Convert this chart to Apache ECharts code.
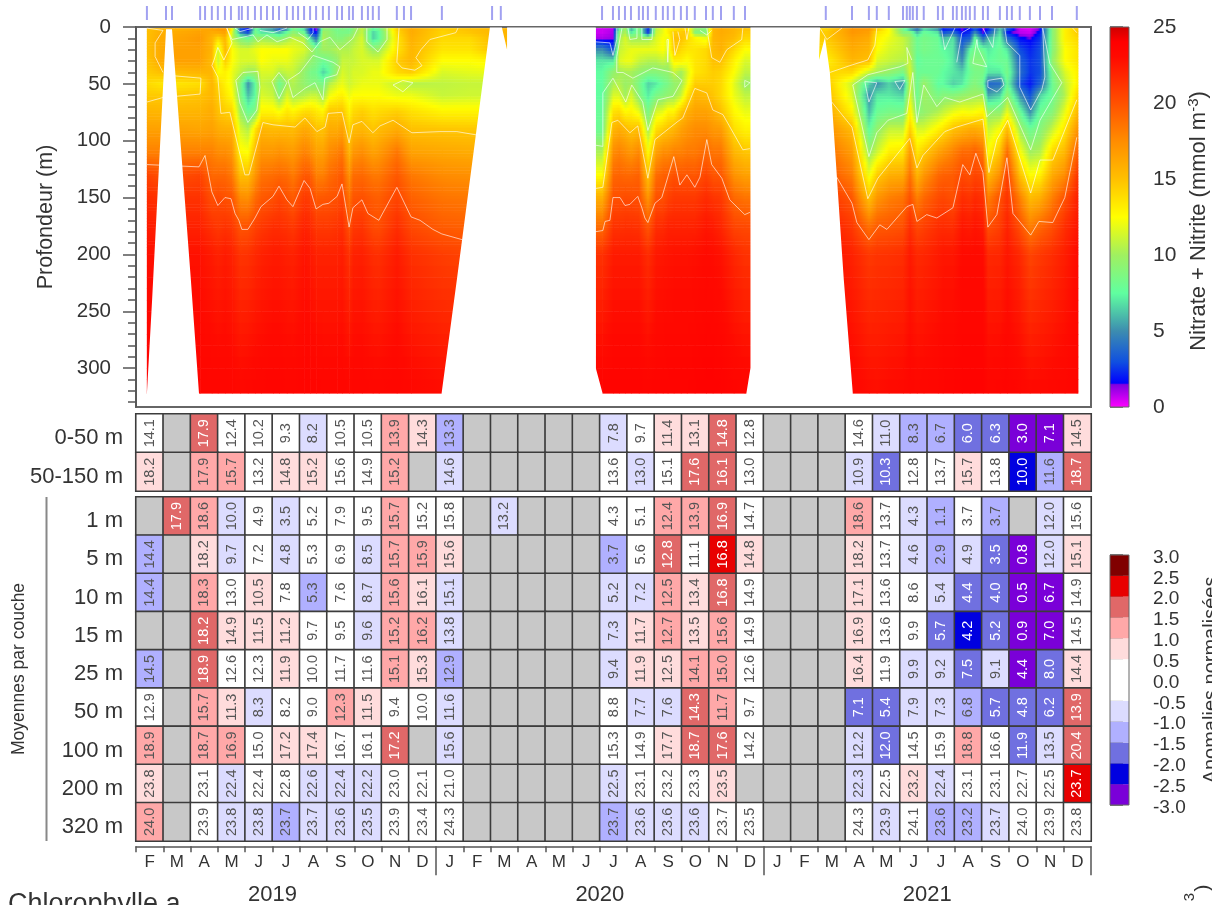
<!DOCTYPE html>
<html><head><meta charset="utf-8">
<script src="https://cdn.jsdelivr.net/npm/echarts@6/dist/echarts.min.js"></script>
<style>html,body{margin:0;padding:0;background:#fff;overflow:hidden}#main{width:1212px;height:905px;filter:blur(0.7px)}</style>
</head><body><div id="main"></div>
<script>
// ---------- time axis: months since 1 Feb 2019 ----------
const monthLetters=['F','M','A','M','J','J','A','S','O','N','D','J','F','M','A','M','J','J','A','S','O','N','D','J','F','M','A','M','J','J','A','S','O','N','D'];
const yearLabels={5:'2019',17:'2020',29:'2021'};
const yearEnds=[11,23,35];
const sampleDates=[.40,1.10,1.32,2.35,2.53,2.78,3.00,3.26,3.48,3.77,3.88,4.10,4.36,4.58,4.80,5.02,5.24,5.53,5.75,5.94,6.16,6.38,6.60,6.85,7.07,7.37,7.55,7.81,7.95,8.28,8.50,8.68,8.90,9.56,9.82,10.08,11.21,13.05,13.37,17.08,17.48,17.70,17.92,18.14,18.43,18.58,18.76,19.05,19.31,19.49,19.71,19.97,20.19,20.48,20.89,21.14,21.44,21.91,22.32,25.28,26.24,26.86,27.15,27.59,28.11,28.25,28.36,28.47,28.62,28.87,29.39,29.57,29.94,30.08,30.27,30.41,30.56,30.74,31.04,31.22,31.66,31.92,32.10,32.39,32.76,33.13,33.57,34.48];

// ---------- nitrate + nitrite section ----------
const depthLevels=[0,5,10,20,30,40,50,60,75,90,110,130,150,175,200,322];
const dates2019=[.40,.88,1.43,2.35,2.78,3.00,3.26,3.52,3.81,4.10,4.36,4.58,5.02,5.24,5.53,5.75,6.16,6.38,6.60,6.85,7.07,7.37,7.55,7.81,7.95,8.28,8.68,8.90,9.56,10.08,11.21,12.24,13.27];
const nitrate2019=[
[15,15,15,15,14.8,14.5,14,14.6,15.6,16.5,18,20.5,21.5,22.3,22.8,24],
[15.2,15.8,16,16,16,15,13.5,14.6,15.5,16.5,18,20,21.3,22,22.7,23.8],
[15.5,16,16.2,16.5,16.5,15.2,13.5,14.6,15.5,16.5,18,20,21.3,22,22.7,23.8],
[16,16.5,16.8,16.5,16.5,15.5,13.8,14.9,15.6,16.3,18,20.5,21.3,22,22.7,23.5],
[16.5,16,15.5,15.5,15.2,15.5,15.5,15.5,16,16.5,18,19,20,21.3,22.3,23.5],
[17,16,14,11,11,12.5,14,14.5,15,16,17.5,19,20.3,21,22,23.5],
[17,16.5,15.5,15.5,14.5,13,13,13.5,14.5,15.8,17.5,19,20,21.3,22.3,23.5],
[13,11.5,11,12.5,12.5,12,12,12.5,14.2,15.7,17,18.3,19.8,21,22,23.4],
[2,5,9,11.5,11.5,10.8,9,9,10,11.5,12.8,15,17.5,19.8,21.2,23.3],
[.8,3,8,11.5,11.5,9.8,5,6,8,10.5,12.5,15,17.3,19.9,21.3,23.4],
[8,8.5,9.5,12,11.5,10,7.5,7.5,8.8,13.5,15.5,17,18.8,20.6,21.7,23.5],
[6,7,10,12.5,12.5,11.5,11,11.5,13,15.5,17,18.5,19.6,21,22,23.5],
[4,7,9.5,12.5,12,11.5,10.5,11,13,15.3,17,18.8,20,21.5,22.3,23.6],
[2,6,9,12.5,12,10.5,8,9,12.5,15.3,17.3,19,20.5,21.5,22.3,23.6],
[4,8,10,12.5,12,11,10,11.5,13.5,15.3,17,18.8,20,21.3,22.1,23.5],
[8,9.5,11,12,11.5,11,10.5,10,13,15.2,16.8,18.2,19.5,21,22,23.5],
[6,8,10.5,11.5,10.5,9.5,9.5,10.5,14,16.2,18,19.7,21,22,22.6,23.6],
[2,3,7,10.5,9.5,8.5,9,11,14,15.8,17.5,19.5,20.7,21.7,22.4,23.6],
[.8,1.8,4,9,8.8,8.2,9,11,13.5,15,16.5,18,19.6,21,22,23.6],
[9,10,10.5,10,8,6.5,8.5,9.8,13,14.9,16.5,18,19.7,21,22,23.5],
[9,9.5,9.5,10,8.5,7.5,10.5,12,14.9,16,17.5,18.8,19.8,21,22,23.5],
[8,8.5,9,10.5,9.5,10,11.5,12.8,14.8,16,18,19.3,20,21.2,22,23.5],
[9,8.5,9,10.5,11,11.5,12,13,15,16.5,18.5,19.7,20.5,21.5,22.2,23.5],
[8,8.5,10,10.5,11,11,11.2,12,13,14.2,15.5,17.2,18.5,19.9,21.3,23.4],
[9,9.5,10.2,11,11,11.5,11.5,12.5,14,15.2,17,18.8,19.8,21,22,23.5],
[11,11,11.5,11.5,11.5,11.5,12,12.5,14.5,15.5,17.5,19,20,21.2,22.1,23.5],
[8,6.5,6.5,9.8,11.5,12,12,12.5,13.8,14.8,16.5,18.3,19.5,20.2,21.5,23.4],
[8.5,7.5,7.5,10,11.5,12,12,12.5,14,15.2,16.8,18.3,19.4,20.1,21.4,23.4],
[14.5,14,13.5,13.5,14.5,14,11,12,14.5,16,18.5,19.7,20.5,21.5,22.3,23.5],
[16,16,15.8,15.5,15.5,14.5,10.5,12,13.8,15,16.5,18.3,19.3,20.3,21.4,23.3],
[14.5,14.2,14,13.5,12.5,11.5,10.8,11,13,14.8,16.2,17.5,18.5,19.5,20.8,23],
[15,14.8,14,13.5,12.5,11.8,11,11.2,13,14.7,16,17.3,18.3,19.3,20.5,23],
[15.5,15.5,15.5,15.2,13,12,11,11.2,13,14.7,16,17.3,18.3,19.3,20.5,23]];
const dates2020=[17.08,17.48,17.70,17.92,18.14,18.43,18.76,19.05,19.31,19.49,19.71,19.97,20.19,20.48,20.89,21.14,21.44,21.91,22.31];
const nitrate2020=[
[.6,.6,1,5,7,7.5,7.5,7.5,7.8,8,10.3,12.5,15.8,18.8,21.3,23.7],
[.8,1,1.2,3,7,9.5,10.3,11.5,13.7,15.5,17.5,19,20,21.3,22.3,23.7],
[7,9,10,11,11.5,10,10.5,11.5,14,16,18,19.2,20,21.3,22.3,23.7],
[10,10.5,11.5,11.5,12,10.2,9.8,9.9,12.8,15.5,17.5,19,20.2,21.4,22.3,23.7],
[5,7,10,12,12,10.2,10,11.5,13,14.8,17,19,20.1,21.4,22.3,23.7],
[9,9,10,12,11,9.5,8.5,9,12,15.2,17.8,19.3,20,21.3,22.3,23.7],
[2,2.5,10,12,10.5,9,6.5,7,8.5,10,12.5,14.8,17,19.7,21.5,23.6],
[10.5,11,11.5,12,10.5,9,7,8.5,11.5,13.8,16.5,18.8,20,21.5,22.4,23.7],
[12,12,12.5,12.5,11,9.3,8,9,12,14.5,17.5,19.3,20,21.6,22.5,23.7],
[13,13,12,11.5,10.5,9.5,8.5,9.5,13,15,17.5,19.5,20.6,22,22.6,23.7],
[13,14.5,15,14.8,13,11,9.5,9.7,13,15.5,18,20,21,22,22.7,23.7],
[14,14.5,15,14,13,10,10,11,14.8,16.5,18,19.7,21,22,22.7,23.7],
[13,15,14,13.5,12.5,11.5,12,13.5,15.8,17,18.3,19.8,21,22,22.7,23.7],
[10,9,13,13.5,13.5,13.5,14.5,15.5,16.5,17.5,18.3,19.7,21,22,22.8,23.8],
[9,9,12,14,14,14,14.5,15.2,16.5,17.5,19,20.5,21.6,22.5,23,23.9],
[15.5,15.5,15.5,15.2,15,14.5,14.5,14.8,16,17,18.5,19.8,21.2,22.3,22.9,23.9],
[16,16,15.8,15.7,15,14.2,14,14,15,16.8,18.5,19.7,21,21.8,22.7,23.8],
[15.5,15.5,15.2,14,13,12.5,11.8,12,12.8,13.8,15.5,17.2,19,20.5,21.8,23.6],
[15,14.5,14,12.5,11.5,10.8,9.8,10.8,12,13,14.8,16.5,18.5,20.3,21.3,23.5]];
const dates2021=[25.28,26.24,26.86,27.15,27.59,28.11,28.36,28.62,28.87,29.39,29.57,29.94,30.27,30.56,30.74,31.04,31.22,31.66,31.92,32.39,32.76,33.13,33.57,34.04,34.48];
const nitrate2021=[
[14,14.5,14.5,13.8,13,14,15,15.5,16.5,17.5,19,20,21.3,22.3,22.8,23.7],
[17,17,16.5,16,15.5,14,11,11.5,13,15.2,16.7,18,19.7,21,22,23.3],
[17,16.5,16,15.5,15,11,6.5,5,6,7.5,9.7,12,14.9,18.6,21,23],
[15.2,13.5,13,12.5,11.5,10.3,5,7,8,9.5,11.2,14.5,17,19.5,21.2,22.9],
[12.5,12.5,12,11.5,11,9.5,6.5,7,8.5,11,13.2,15.8,18,19.7,21.3,23.1],
[8,9,11,11,10.5,8.5,5,6.5,8.5,11,13.5,16,18.5,20,21.5,23.2],
[4,9,10,10,11,11.5,11,11.5,13,14.5,17,18.7,20,21.5,22.4,23.4],
[3,6,8,8,7.5,8,8,8,9,11.5,13.5,15.5,18,20.3,21.7,23.3],
[6,8,8.5,8.5,8,8,9.8,10,9.5,11.5,14.5,17,19,20.7,21.8,23.4],
[4,7,8,8,8,8,7.5,8.5,10.5,13,16.5,19,20.2,21.5,22.3,23.5],
[1.5,3,6,7.5,8,7.5,7.5,9,11,13.5,17,19.3,20.4,21.6,22.5,23.6],
[1.5,4,7,7,7,7,6.5,9,12,15,18,19.5,20,21.5,22.5,23.7],
[1.2,1.8,3,4,5,6.5,7,9.5,12.5,15.5,19,20.3,21.5,22.5,23,23.8],
[1.5,2.5,3.5,7.5,8.5,8,8.5,9.8,12.3,16,19,20,21.2,22.3,23,23.8],
[2,5,8,8.5,9,8.5,9,9.9,12.5,16,19.5,20.5,21.7,22.6,23,23.8],
[1,1.5,4,8,9,8.5,8,10,13,15.5,18.5,20.2,21.3,22.3,23,23.8],
[1.5,3,6,7,7.5,7,3.8,5.5,9.5,11,12.5,15.2,18,20,21.7,23.5],
[6,7,7.5,8,8,7,4,6.5,9.5,12.5,15,17.5,20,20.8,21.8,23.6],
[4,2,4,7,8,8.5,8,9.5,12,15.3,19,20.8,21.3,22,22.5,23.7],
[.5,.8,1.8,3,3.5,4,3,5,8,10,12.5,15,18,20,21.7,23.4],
[.3,.6,1.5,2.2,2.5,2.5,2,3,5,8,10,12.5,15.2,18,20.5,23.2],
[1.5,2,2.5,3,3,3,3.5,6.5,8,9,10.5,13,15.8,19,21,23.2],
[9,9,9,9,9.5,8.5,8,8,9,11,14,16,18,20,21.5,23.3],
[13,13,13,12.5,12.5,11.5,10.8,10.5,12,13.5,15.5,17.5,20,21.5,22.2,23.4],
[14.5,14.5,14,13.5,13.5,13,13,14,15.3,17,19.3,21,22,22.5,23,23.6]];
// first and last instants of each continuous section
const sectionLimits=[[.40,13.60],[16.85,22.52],[25.03,34.52]];
// regions without data [month, depth]
const gapWedge=[[1.10,2],[1.32,2],[2.01,222],[2.32,326],[.40,326],[.40,322],[.59,240]];
const gap2019=[[12.97,0.5],[13.41,0.5],[13.60,20],[13.60,0.5],[16.85,0.5],[16.85,300],[17.10,322],[17.10,326],[11.20,326],[11.20,322],[11.76,222]];
const gap2020=[[22.52,0.5],[25.07,0.5],[25.03,29],[25.25,9],[25.43,40],[25.94,222],[26.27,322],[26.27,326],[22.37,326],[22.37,322],[22.52,300]];

// contour lines [month, depth]
const iso20=[
[[.40,121],[2.31,123],[2.53,113],[2.78,145],[3.00,157],[3.26,150],[3.48,151],[3.63,164],[3.77,170],[3.88,178],[4.10,178],[4.36,168],[4.58,158],[5.02,149],[5.24,140],[5.53,152],[5.75,158],[6.16,135],[6.38,142],[6.60,160],[6.85,156],[7.07,155],[7.37,149],[7.55,138],[7.81,176],[7.95,159],[8.28,152],[8.50,164],[8.90,170],[9.56,141],[10.08,167],[10.41,170],[10.88,178],[11.21,182],[11.95,187]],
[[16.85,180],[17.11,179],[17.19,171],[17.37,170],[17.48,150],[17.74,150],[17.92,157],[18.10,156],[18.39,149],[18.54,159],[18.65,168],[18.76,172],[19.02,155],[19.27,150],[19.49,132],[19.71,114],[19.93,139],[20.19,130],[20.48,141],[20.67,132],[20.92,99],[21.10,121],[21.47,133],[21.76,152],[22.31,165],[22.50,163]],
[[25.68,132],[26.24,155],[26.42,172],[26.86,187],[27.26,174],[27.52,178],[28.25,158],[28.47,156],[28.62,171],[28.98,165],[29.35,168],[29.94,159],[30.30,121],[30.56,130],[30.78,111],[31.04,128],[31.22,176],[31.55,165],[31.92,115],[32.14,164],[32.79,183],[33.09,171],[33.60,172],[34.04,150],[34.48,97]]];
const iso15=[
[[3.33,1],[3.52,14],[3.22,29],[3.08,22],[3.00,18],[2.86,29],[2.78,34],[3.00,44],[3.11,76],[3.44,75],[3.99,130],[4.14,130],[4.65,84],[5.02,86],[5.83,88],[6.19,80],[6.63,92],[6.93,88],[7.04,76],[7.55,75],[7.81,102],[7.95,86],[8.28,83],[8.68,93],[8.94,87],[9.42,82],[10.11,93],[11.14,92],[11.76,92],[12.50,95]],
[[.40,1],[.99,3],[.70,14],[.70,26],[.99,40]],
[[.40,66],[.99,62],[2.35,59],[2.38,45],[1.43,43]],
[[9.64,1],[9.56,31],[9.75,36],[10.22,38],[10.48,34],[10.26,27],[10.44,20],[10.77,11],[11.72,5],[11.80,1]],
[[16.85,142],[17.11,141],[17.44,84],[17.66,82],[18.10,93],[18.39,87],[18.76,133],[19.02,99],[19.86,83],[20.04,80],[20.48,54],[20.92,58],[21.14,73],[21.51,77],[22.24,108],[22.50,107]],
[[19.68,4],[19.75,25],[19.93,11],[19.86,4]],
[[20.92,1],[21.10,27],[21.40,31],[21.65,20],[22.20,11],[22.24,1]],
[[25.50,66],[26.24,88],[26.82,151],[27.19,133],[28.36,98],[28.62,124],[28.84,113],[29.64,92],[30.08,88],[31.04,81],[31.26,128],[31.55,99],[31.95,82],[32.79,146],[33.13,117],[33.60,117],[34.48,64]],
[[25.43,40],[26.16,34],[26.82,29],[27.08,16],[27.15,1]],
[[25.07,1],[25.32,11],[25.87,1]],
[[34.33,1],[34.48,5]]];
const iso10=[
[[4.10,84],[3.81,67],[3.66,47],[3.92,40],[4.47,39],[4.54,53],[4.43,73],[4.10,84]],
[[5.24,63],[4.98,48],[5.24,40],[5.53,49],[5.24,63]],
[[5.75,62],[5.57,47],[6.01,40],[6.49,25],[7.22,31],[7.47,35],[7.36,42],[6.92,45],[6.85,64],[6.56,49],[6.19,54],[5.75,62]],
[[3.33,1],[3.52,11],[4.29,7],[4.47,13],[4.80,7],[5.17,13],[5.64,9],[6.12,14],[6.45,22],[6.74,13],[7.11,9],[7.47,20],[7.95,10],[8.13,1]],
[[8.46,1],[8.46,13],[8.87,22],[9.20,11],[9.20,1]],
[[9.42,51],[9.78,47],[10.15,49],[9.78,57],[9.42,51]],
[[16.85,104],[17.11,105],[17.11,58],[17.48,45],[17.95,66],[18.17,51],[18.57,66],[18.76,91],[19.13,64],[19.68,61],[20.01,47],[19.68,40],[18.94,36],[18.21,45],[17.85,40],[17.62,40],[17.62,26],[17.81,1]],
[[18.03,1],[18.10,11],[18.36,10],[18.36,1]],
[[18.54,1],[18.54,11],[18.91,11],[18.94,1]],
[[19.46,11],[19.49,31],[19.52,11],[19.46,11]],
[[20.12,1],[20.19,11],[20.26,1]],
[[20.67,3],[20.92,7],[21.10,3]],
[[22.31,47],[22.50,49],[22.31,53],[22.31,47]],
[[26.27,51],[26.86,114],[27.15,93],[27.56,82],[28.25,76],[28.47,40],[28.62,84],[28.87,51],[29.35,70],[29.64,62],[30.19,66],[31.04,59],[31.18,79],[31.95,62],[32.79,108],[33.13,82],[33.93,49],[33.49,32],[33.23,1]],
[[26.27,51],[26.82,42],[27.99,35],[28.29,32],[28.25,18],[28.43,29]],
[[30.82,11],[30.67,32],[31.18,35],[30.85,18],[30.82,11]]];
const iso5=[
[[3.63,1],[3.81,4],[4.29,1]],
[[4.54,3],[5.02,5],[5.53,1]],
[[5.94,5],[6.30,11],[6.49,5],[6.49,1]],
[[16.85,13],[17.37,14],[17.48,25],[17.62,11],[17.62,1]],
[[26.71,48],[27.15,49],[26.86,66],[26.71,48]],
[[27.81,48],[28.18,47],[27.99,55],[27.81,48]],
[[31.22,47],[31.73,45],[31.81,51],[31.55,57],[31.22,53],[31.22,47]],
[[31.84,1],[31.92,14],[32.39,25],[32.39,53],[32.79,73],[33.20,55],[33.31,44],[33.23,1]],
[[29.53,3],[29.64,20],[30.01,1]],
[[30.08,31],[30.27,5],[30.56,1]],
[[31.04,1],[31.40,18],[31.48,1]]];

const nitrateTicks=[0,50,100,150,200,250,300];
const nitrateMinorTicks=[10,20,30,40,60,70,80,90,110,120,130,140,160,170,180,190,210,220,230,240,260,270,280,290,310,320,330];
const nitratePalette=[[0,'#FF00FF'],[1.5,'#8000E0'],[1.6,'#0000FF'],[3,'#1050E0'],[5,'#3C8CB0'],[7.5,'#60FFA0'],[10,'#A0F060'],[12.5,'#FFFF00'],[15,'#FFC000'],[17.5,'#FF8C00'],[20,'#FF5000'],[23,'#FF0A00'],[24,'#FF0000'],[25,'#CC0000']];

// ---------- monthly table ----------
const layersTop=['0-50 m','50-150 m'];
const layersBottom=['1 m','5 m','10 m','15 m','25 m','50 m','100 m','200 m','320 m'];
const n=null;
const mean0_50=[14.1,n,17.9,12.4,10.2,9.3,8.2,10.5,10.5,13.9,14.3,13.3,n,n,n,n,n,7.8,9.7,11.4,13.1,14.8,12.8,n,n,n,14.6,11.0,8.3,6.7,6.0,6.3,3.0,7.1,14.5];
const anom0_50=[0,n,1.75,0,0,0,-.75,0,0,1.25,.75,-1.25,n,n,n,n,n,-.75,0,.75,.75,1.75,0,n,n,n,0,-.75,-1.25,-1.25,-1.75,-1.75,-2.75,-2.75,.75];
const mean50_150=[18.2,n,17.9,15.7,13.2,14.8,15.2,15.6,14.9,15.2,n,14.6,n,n,n,n,n,13.6,13.0,15.1,17.6,16.1,13.0,n,n,n,10.9,10.3,12.8,13.7,15.7,13.8,10.0,11.6,18.7];
const anom50_150=[.75,n,1.25,1.25,0,.75,.75,0,0,1.25,n,-.75,n,n,n,n,n,0,-.75,0,1.75,1.75,0,n,n,n,-.75,-1.75,0,0,.75,0,-2.25,-1.25,1.75];
const mean1=[n,17.9,18.6,10.0,4.9,3.5,5.2,7.9,9.5,15.7,15.2,15.8,n,13.2,n,n,n,4.3,5.1,12.4,13.9,16.9,14.7,n,n,n,18.6,13.7,4.3,1.1,3.7,3.7,n,12.0,15.6];
const anom1=[n,1.75,1.25,-.75,0,-.75,0,0,0,1.25,0,0,n,-.75,n,n,n,0,0,1.25,1.25,1.75,0,n,n,n,1.25,0,-.75,-1.25,0,-1.25,n,-.75,0];
const mean5=[14.4,n,18.2,9.7,7.2,4.8,5.3,6.9,8.5,15.7,15.9,15.6,n,n,n,n,n,3.7,5.6,12.8,11.1,16.8,14.8,n,n,n,18.2,13.7,4.6,2.9,4.9,3.5,.8,12.0,15.1];
const anom5=[-1.25,n,.75,-.75,0,-.75,0,0,-.75,1.25,1.25,.75,n,n,n,n,n,-1.25,0,1.75,0,2.25,.75,n,n,n,.75,0,-.75,-1.25,-.75,-1.75,-2.75,-.75,.75];
const mean10=[14.4,n,18.3,13.0,10.5,7.8,5.3,7.6,8.7,15.6,16.1,15.1,n,n,n,n,n,5.2,7.2,12.5,13.4,16.8,14.9,n,n,n,17.1,13.6,8.6,5.4,4.4,4.0,.5,6.7,14.9];
const anom10=[-1.25,n,1.25,0,.75,0,-1.25,0,-.75,1.25,.75,-.75,n,n,n,n,n,-.75,-.75,1.25,.75,1.75,0,n,n,n,.75,0,0,-.75,-1.75,-1.75,-2.75,-2.75,0];
const mean15=[n,n,18.2,14.9,11.5,11.2,9.7,9.5,9.6,15.2,16.2,13.8,n,n,n,n,n,7.3,11.7,12.7,13.5,15.6,14.9,n,n,n,16.9,13.6,9.9,5.7,4.2,5.2,.9,7.0,14.5];
const anom15=[n,n,1.75,.75,.75,.75,0,0,-.75,1.25,1.25,-.75,n,n,n,n,n,-.75,.75,1.25,.75,1.25,0,n,n,n,.75,0,0,-1.75,-2.25,-1.75,-2.75,-2.75,0];
const mean25=[14.5,n,18.9,12.6,12.3,11.9,10.0,11.7,11.6,15.1,15.3,12.9,n,n,n,n,n,9.4,11.9,12.5,14.1,15.0,12.6,n,n,n,16.4,11.9,9.9,9.2,7.5,9.1,4.4,8.0,14.4];
const anom25=[-1.25,n,1.75,0,0,.75,0,0,0,1.25,.75,-1.25,n,n,n,n,n,-.75,.75,.75,1.25,1.25,0,n,n,n,.75,0,-.75,-.75,-1.75,-.75,-2.75,-1.75,.75];
const mean50=[12.9,n,15.7,11.3,8.3,8.2,9.0,12.3,11.5,9.4,10.0,11.6,n,n,n,n,n,8.8,7.7,7.6,14.3,11.7,9.7,n,n,n,7.1,5.4,7.9,7.3,6.8,5.7,4.8,6.2,13.9];
const anom50=[0,n,1.25,.75,-.75,0,0,1.25,.75,0,0,-.75,n,n,n,n,n,0,-.75,-.75,1.75,1.25,0,n,n,n,-1.75,-1.75,-.75,-.75,-1.25,-1.75,-1.75,-1.75,1.75];
const mean100=[18.9,n,18.7,16.9,15.0,17.2,17.4,16.7,16.1,17.2,n,15.6,n,n,n,n,n,15.3,14.9,17.7,18.7,17.6,14.2,n,n,n,12.2,12.0,14.5,15.9,18.8,16.6,11.9,13.5,20.4];
const anom100=[1.25,n,1.25,1.25,0,.75,.75,0,0,1.75,n,-.75,n,n,n,n,n,0,0,.75,1.75,1.75,0,n,n,n,-.75,-1.75,0,0,1.25,0,-1.75,-.75,1.75];
const mean200=[23.8,n,23.1,22.4,22.4,22.8,22.6,22.4,22.2,23.0,22.1,21.0,n,n,n,n,n,22.5,23.1,23.2,23.3,23.5,n,n,n,n,22.3,22.5,23.2,22.4,23.1,23.1,22.7,22.5,23.7];
const anom200=[.75,n,0,-.75,0,0,-.75,-.75,-.75,0,0,0,n,n,n,n,n,-.75,0,0,0,.75,n,n,n,n,-.75,0,.75,-.75,0,0,0,0,2.25];
const mean320=[24.0,n,23.9,23.8,23.8,23.7,23.7,23.6,23.5,23.9,23.4,24.3,n,n,n,n,n,23.7,23.6,23.6,23.6,23.7,23.5,n,n,n,24.3,23.9,24.1,23.6,23.2,23.7,24.0,23.9,23.8];
const anom320=[1.25,n,0,-.75,-.75,-1.25,-.75,-.75,-.75,0,0,0,n,n,n,n,n,-1.25,-.75,-.75,-.75,0,0,n,n,n,0,-.75,0,-1.25,-1.25,-.75,0,0,0];

const anomalyBreaks=[-3,-2.5,-2,-1.5,-1,-.5,.5,1,1.5,2,2.5,3];
const anomalyColors=['#7A00D8','#0000E0','#7070E0','#B0B0FF','#DCDCFF','#FFFFFF','#FFDCDC','#FFA8A8','#E06868','#E80000','#800000'];
const missingColor='#C8C8C8';

// ---------- helpers ----------
const FONT='"Liberation Sans"', INK='#333';
function nitrateColor(v){
  for(let i=1;i<nitratePalette.length;i++){
    if(v<=nitratePalette[i][0]){
      const [a,ca]=nitratePalette[i-1],[b,cb]=nitratePalette[i];
      return echarts.color.lerp((v-a)/(b-a),[ca,cb]);
    }
  }
  return nitratePalette[nitratePalette.length-1][1];
}
function anomalyColor(a){
  if(a===null) return missingColor;
  for(let i=0;i<anomalyColors.length;i++) if(a<=anomalyBreaks[i+1]) return anomalyColors[i];
  return anomalyColors[anomalyColors.length-1];
}
function cells(rows){
  const out=[];
  rows.forEach(([means,anoms],r)=>means.forEach((m,i)=>{
    const a=anoms[i];
    out.push({value:[i,r,a===null?0:a],
      itemStyle:{color:anomalyColor(a)},
      label:{show:m!==null,formatter:m===null?'':m.toFixed(1),color:(a!==null&&Math.abs(a)>=1.5)?'#fff':'#555'}});
  }));
  return out;
}
// one entry per stretch between two neighbouring casts of a section
function sectionSpans(){
  const out=[];
  [[dates2019,nitrate2019],[dates2020,nitrate2020],[dates2021,nitrate2021]].forEach(([dates,profiles],s)=>{
    out.push({value:[sectionLimits[s][0],dates[0]],a:profiles[0],b:profiles[0]});
    dates.forEach((d,i)=>{
      if(i<dates.length-1) out.push({value:[d,dates[i+1]],a:profiles[i],b:profiles[i+1]});
    });
    out.push({value:[dates[dates.length-1],sectionLimits[s][1]],a:profiles[dates.length-1],b:profiles[dates.length-1]});
  });
  return out;
}
const spans=sectionSpans();
const maxDepth=depthLevels[depthLevels.length-1];
// vertical shading bands of the section image
const shadeBands=[];
for(let d=1;d<200;d+=2.5) shadeBands.push([d,Math.min(d+2.5,200)]);
for(let d=200;d<maxDepth;d+=10) shadeBands.push([d,Math.min(d+10,maxDepth)]);
function atDepth(profile,d){
  for(let k=1;k<depthLevels.length;k++){
    if(d<=depthLevels[k]){
      const t=(d-depthLevels[k-1])/(depthLevels[k]-depthLevels[k-1]);
      return profile[k-1]+(profile[k]-profile[k-1])*t;
    }
  }
  return profile[profile.length-1];
}
const hiddenX=(gridIndex,min,max)=>({type:'value',gridIndex,min,max,show:false});
const hiddenY=(gridIndex,min,max)=>({type:'value',gridIndex,min,max,show:false});
const axisStyle={lineStyle:{color:'#555',width:1.5}};
const heatLabel={show:true,rotate:90,fontFamily:FONT,fontSize:14.5,color:'#555'};
const cellStyle={borderColor:'#3c3c3c',borderWidth:1.6};

const isoSeries=[];
[iso20,iso15,iso10,iso5].forEach(group=>group.forEach(line=>isoSeries.push({
  type:'line',xAxisIndex:1,yAxisIndex:1,data:line,showSymbol:false,silent:true,z:3,
  lineStyle:{color:'rgba(255,255,255,0.62)',width:1},animation:false
})));

const option={
  animation:false,
  grid:[
    {left:136,width:955,top:6,height:14},
    {left:136,width:955,top:27,height:380,show:true,borderColor:'#666',borderWidth:2,backgroundColor:'#fff'},
    {left:1110,width:19,top:27,height:380},
    {left:136,width:955,top:414,height:77,show:true,borderColor:'#777',borderWidth:2},
    {left:136,width:955,top:497,height:344,show:true,borderColor:'#777',borderWidth:2},
    {left:136,width:955,top:846,height:1},
    {left:1110,width:19,top:555,height:250}
  ],
  xAxis:[
    hiddenX(0,0,35),
    hiddenX(1,0,35),
    hiddenX(2,0,1),
    {type:'category',gridIndex:3,data:monthLetters.map((m,i)=>i),show:false},
    {type:'category',gridIndex:4,data:monthLetters.map((m,i)=>i),show:false},
    {type:'value',gridIndex:5,min:0,max:35,position:'bottom',splitLine:{show:false},
      axisLine:{show:true,...axisStyle},
      axisTick:{show:true,length:6,customValues:monthLetters.map((m,i)=>i).concat([35]),...axisStyle},
      axisLabel:{customValues:monthLetters.map((m,i)=>i+.5),formatter:v=>monthLetters[Math.floor(v)],fontFamily:FONT,fontSize:17,color:INK,margin:8}},
    {type:'value',gridIndex:5,min:0,max:35,position:'bottom',splitLine:{show:false},
      axisLine:{show:false},
      axisTick:{show:true,length:29,customValues:yearEnds,...axisStyle},
      axisLabel:{customValues:[5,17,29],formatter:v=>yearLabels[v],fontFamily:FONT,fontSize:22,color:INK,margin:38}},
    hiddenX(6,0,1)
  ],
  yAxis:[
    hiddenY(0,0,1),
    {type:'value',gridIndex:1,inverse:true,min:0,max:334.2,position:'left',splitLine:{show:false},
      name:'Profondeur (m)',nameLocation:'middle',nameGap:79,nameMoveOverlap:false,nameTextStyle:{fontFamily:FONT,fontSize:21.5,color:INK},
      axisLine:{show:true,...axisStyle},
      axisTick:{show:true,length:13,customValues:nitrateTicks,...axisStyle},
      axisLabel:{customValues:nitrateTicks,fontFamily:FONT,fontSize:20.5,color:INK,margin:25}},
    {type:'value',gridIndex:1,inverse:true,min:0,max:334.2,position:'left',splitLine:{show:false},
      axisLine:{show:false},
      axisTick:{show:true,length:8,customValues:nitrateMinorTicks,...axisStyle},
      axisLabel:{show:false}},
    {type:'value',gridIndex:2,min:0,max:25,interval:5,position:'right',splitLine:{show:false},
      axisLine:{show:false},
      axisTick:{show:true,length:13,...axisStyle},
      axisLabel:{fontFamily:FONT,fontSize:21,color:INK,margin:24}},
    {type:'category',gridIndex:3,inverse:true,data:layersTop,axisLine:{show:false},axisTick:{show:false},
      axisLabel:{fontFamily:FONT,fontSize:22,color:INK,margin:13,verticalAlign:'top',lineHeight:10}},
    {type:'category',gridIndex:4,inverse:true,data:layersBottom,axisLine:{show:false},axisTick:{show:false},
      name:'Moyennes par couche',nameLocation:'middle',nameGap:108,nameMoveOverlap:false,nameTextStyle:{fontFamily:FONT,fontSize:17.5,color:INK},
      axisLabel:{fontFamily:FONT,fontSize:22,color:INK,margin:13,verticalAlign:'top',lineHeight:10}},
    hiddenY(5,0,1),
    {type:'value',gridIndex:6,min:-3,max:3,interval:.5,position:'right',splitLine:{show:false},
      axisLine:{show:false},
      axisTick:{show:true,length:13,...axisStyle},
      axisLabel:{fontFamily:FONT,fontSize:19,color:INK,margin:24,verticalAlign:'top',lineHeight:5,formatter:v=>v.toFixed(1)}}
  ],
  graphic:[
    {type:'line',shape:{x1:46.5,y1:497,x2:46.5,y2:841},style:{stroke:'#888',lineWidth:2}},
    {type:'text',x:1199,y:221,rotation:Math.PI/2,style:{
      text:'{a|Nitrate + Nitrite (mmol m}{s|-3}{a|)}',align:'center',verticalAlign:'middle',
      rich:{a:{fontFamily:FONT,fontSize:22,fill:INK,lineHeight:26},s:{fontFamily:FONT,fontSize:15,fill:INK,verticalAlign:'top',lineHeight:26}}}},
    {type:'text',x:1211,y:680,rotation:Math.PI/2,style:{text:'Anomalies normalisées',align:'center',verticalAlign:'middle',fontFamily:FONT,fontSize:20,fill:INK}},
    {type:'text',x:8,y:891,style:{text:'Chlorophylle a',fontFamily:FONT,fontSize:27,fill:INK}},
    {type:'text',x:1190,y:897,rotation:Math.PI/2,style:{text:'3',align:'center',verticalAlign:'middle',fontFamily:FONT,fontSize:15,fill:INK}},
    {type:'text',x:1203,y:888,rotation:Math.PI/2,style:{text:')',align:'center',verticalAlign:'middle',fontFamily:FONT,fontSize:21,fill:INK}}
  ],
  series:[
    {type:'scatter',xAxisIndex:0,yAxisIndex:0,symbol:'rect',symbolSize:[2,14],silent:true,
      itemStyle:{color:'#8A8AEE'},data:sampleDates.map(d=>[d,.5])},
    {type:'custom',xAxisIndex:1,yAxisIndex:1,silent:true,z:2,clip:true,encode:{x:[0,1]},data:spans,
      renderItem(params,api){
        const span=spans[params.dataIndex];
        const x0=api.value(0), x1=api.value(1);
        const children=shadeBands.map(([d0,d1])=>{
          const a=api.coord([x0,d0]), b=api.coord([x1,d1]);
          const mid=(d0+d1)/2, va=atDepth(span.a,mid), vb=atDepth(span.b,mid);
          const stops=[0,.25,.5,.75,1].map(t=>({offset:t,color:nitrateColor(va+(vb-va)*t)}));
          return {type:'rect',shape:{x:a[0],y:a[1],width:b[0]-a[0]+.5,height:b[1]-a[1]+.5},
            style:{fill:new echarts.graphic.LinearGradient(0,0,1,0,stops)}};
        });
        return {type:'group',children};
      }},
    ...isoSeries,
    {type:'custom',xAxisIndex:1,yAxisIndex:1,silent:true,z:4,clip:true,encode:{x:0},data:[[0],[1],[2]],
      renderItem(params,api){
        const poly=[gapWedge,gap2019,gap2020][params.dataIndex];
        return {type:'polygon',shape:{points:poly.map(p=>api.coord(p))},style:{fill:'#fff'}};
      }},
    {type:'custom',xAxisIndex:2,yAxisIndex:3,silent:true,encode:{y:0},data:[[0]],
      renderItem(params,api){
        const a=api.coord([0,25]), b=api.coord([1,0]);
        const stops=nitratePalette.map(([v,c])=>({offset:1-v/25,color:c}));
        return {type:'rect',shape:{x:a[0],y:a[1],width:b[0]-a[0],height:b[1]-a[1]},
          style:{fill:new echarts.graphic.LinearGradient(0,0,0,1,stops),stroke:'#666',lineWidth:1}};
      }},
    {type:'heatmap',xAxisIndex:3,yAxisIndex:4,silent:true,label:heatLabel,itemStyle:cellStyle,progressive:0,
      data:cells([[mean0_50,anom0_50],[mean50_150,anom50_150]])},
    {type:'heatmap',xAxisIndex:4,yAxisIndex:5,silent:true,label:heatLabel,itemStyle:cellStyle,progressive:0,
      data:cells([[mean1,anom1],[mean5,anom5],[mean10,anom10],[mean15,anom15],[mean25,anom25],[mean50,anom50],[mean100,anom100],[mean200,anom200],[mean320,anom320]])},
    {type:'custom',xAxisIndex:7,yAxisIndex:7,silent:true,encode:{y:[0,1]},
      data:anomalyColors.map((c,i)=>[anomalyBreaks[i],anomalyBreaks[i+1]]),
      renderItem(params,api){
        const a=api.coord([0,api.value(1)]), b=api.coord([1,api.value(0)]);
        return {type:'rect',shape:{x:a[0],y:a[1],width:b[0]-a[0],height:b[1]-a[1]},
          style:{fill:anomalyColors[params.dataIndex]}};
      }},
    {type:'custom',xAxisIndex:7,yAxisIndex:7,silent:true,z:3,encode:{y:[0,1]},data:[[-3,3]],
      renderItem(params,api){
        const a=api.coord([0,api.value(1)]), b=api.coord([1,api.value(0)]);
        return {type:'rect',shape:{x:a[0],y:a[1],width:b[0]-a[0],height:b[1]-a[1]},
          style:{fill:'none',stroke:'#666',lineWidth:1}};
      }}
  ]
};
const chart=echarts.init(document.getElementById('main'));
chart.setOption(option);
</script></body></html>
